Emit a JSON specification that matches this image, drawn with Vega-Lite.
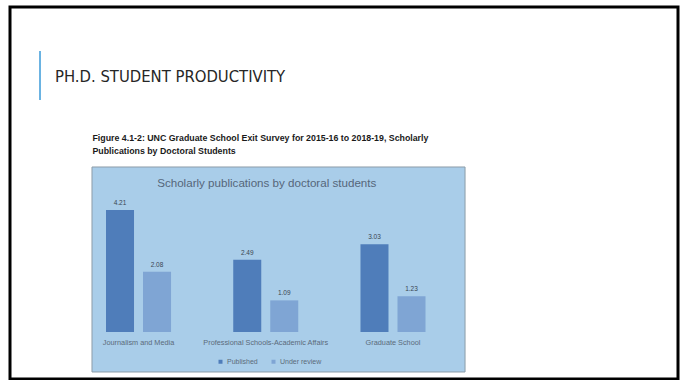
{
  "$schema": "https://vega.github.io/schema/vega-lite/v6.json",
  "width": 668,
  "height": 372,
  "autosize": "none",
  "padding": {"left": 10, "top": 7, "right": 7, "bottom": 1},
  "background": "white",
  "title": {
    "text": "PH.D. STUDENT PRODUCTIVITY",
    "anchor": "start",
    "frame": "group",
    "orient": "top",
    "baseline": "alphabetic",
    "offset": -91,
    "dx": 45,
    "font": "DejaVu Sans Condensed",
    "fontSize": 16.5,
    "fontWeight": "normal",
    "color": "#262626"
  },
  "config": {
    "view": {"stroke": "black", "strokeWidth": 3, "fill": "white"}
  },
  "data": {
    "values": [
      {"school": "Journalism and Media", "status": "Published", "value": 4.21},
      {"school": "Journalism and Media", "status": "Under review", "value": 2.08},
      {"school": "Professional Schools-Academic Affairs", "status": "Published", "value": 2.49},
      {"school": "Professional Schools-Academic Affairs", "status": "Under review", "value": 1.09},
      {"school": "Graduate School", "status": "Published", "value": 3.03},
      {"school": "Graduate School", "status": "Under review", "value": 1.23}
    ]
  },
  "layer": [
    {
      "data": {"values": [{"part": "box"}]},
      "mark": {"type": "rect", "fill": "#A9CDE9", "stroke": "#8C9CA8", "strokeWidth": 1},
      "encoding": {
        "x": {"datum": "Journalism and Media", "type": "nominal", "bandPosition": -0.2154},
        "x2": {"datum": "Graduate School", "bandPosition": 1.608},
        "y": {"datum": 5.69, "type": "quantitative"},
        "y2": {"datum": -1.379}
      }
    },
    {
      "data": {"values": [{"part": "accent"}]},
      "mark": {"type": "rule", "stroke": "#3A9AD9", "strokeWidth": 1.5},
      "encoding": {
        "x": {"datum": "Journalism and Media", "type": "nominal", "bandPosition": -1.015},
        "y": {"datum": 9.69, "type": "quantitative"},
        "y2": {"datum": 8.0}
      }
    },
    {
      "data": {"values": [{"label": "Scholarly publications by doctoral students"}]},
      "mark": {"type": "text", "font": "Liberation Sans", "fontSize": 11.6, "color": "#55667a", "baseline": "middle", "align": "center", "dx": 1},
      "encoding": {
        "x": {"datum": "Professional Schools-Academic Affairs", "type": "nominal"},
        "y": {"datum": 5.1, "type": "quantitative"},
        "text": {"field": "label", "type": "nominal"}
      }
    },
    {
      "mark": {"type": "bar"},
      "encoding": {
        "x": {
          "field": "school",
          "type": "nominal",
          "sort": ["Journalism and Media", "Professional Schools-Academic Affairs", "Graduate School"],
          "scale": {"range": [96, 415.5], "paddingInner": 0.489, "paddingOuter": 0},
          "axis": {
            "title": null,
            "orient": "bottom",
            "offset": -37,
            "bandPosition": 0.5,
            "labelPadding": 0,
            "labelAngle": 0,
            "labelAlign": "center",
            "labelFont": "Liberation Sans",
            "labelFontSize": 7.3,
            "labelColor": "#5b6b7a",
            "domain": false,
            "ticks": false,
            "grid": false
          }
        },
        "y": {
          "field": "value",
          "type": "quantitative",
          "scale": {"domain": [-1.6207, 11.2069], "nice": false, "zero": false},
          "axis": {
            "orient": "left",
            "labels": false,
            "ticks": false,
            "domain": false,
            "grid": false,
            "title": ["Figure 4.1-2: UNC Graduate School Exit Survey for 2015-16 to 2018-19, Scholarly", "Publications by Doctoral Students"],
            "titleAngle": 0,
            "titleAlign": "left",
            "titleBaseline": "alphabetic",
            "titleX": 82,
            "titleY": 133,
            "titleFont": "Liberation Sans",
            "titleFontSize": 8.8,
            "titleFontWeight": "bold",
            "titleColor": "#1a1a1a",
            "titleLineHeight": 13.5,
            "titleLimit": 1000
          }
        },
        "xOffset": {"field": "status", "type": "nominal", "sort": ["Published", "Under review"], "scale": {"paddingInner": 0.243, "paddingOuter": 0}},
        "y2": {"datum": 0},
        "color": {
          "field": "status",
          "type": "nominal",
          "sort": ["Published", "Under review"],
          "scale": {"domain": ["Published", "Under review"], "range": ["#4F7DBA", "#7FA5D4"]},
          "legend": {
            "title": null,
            "orient": "none",
            "legendX": 207,
            "legendY": 351,
            "direction": "horizontal",
            "symbolType": "square",
            "symbolSize": 16,
            "labelFont": "Liberation Sans",
            "labelFontSize": 7,
            "labelColor": "#5b6b7a",
            "columnPadding": 12,
            "labelOffset": 3
          }
        }
      }
    },
    {
      "mark": {"type": "text", "font": "Liberation Sans", "fontSize": 6.5, "color": "#3a4550", "baseline": "bottom", "dy": -4},
      "encoding": {
        "x": {"field": "school", "type": "nominal", "sort": ["Journalism and Media", "Professional Schools-Academic Affairs", "Graduate School"]},
        "xOffset": {"field": "status", "type": "nominal", "sort": ["Published", "Under review"]},
        "y": {"field": "value", "type": "quantitative"},
        "text": {"field": "value", "type": "quantitative", "format": ".2f"}
      }
    }
  ]
}
